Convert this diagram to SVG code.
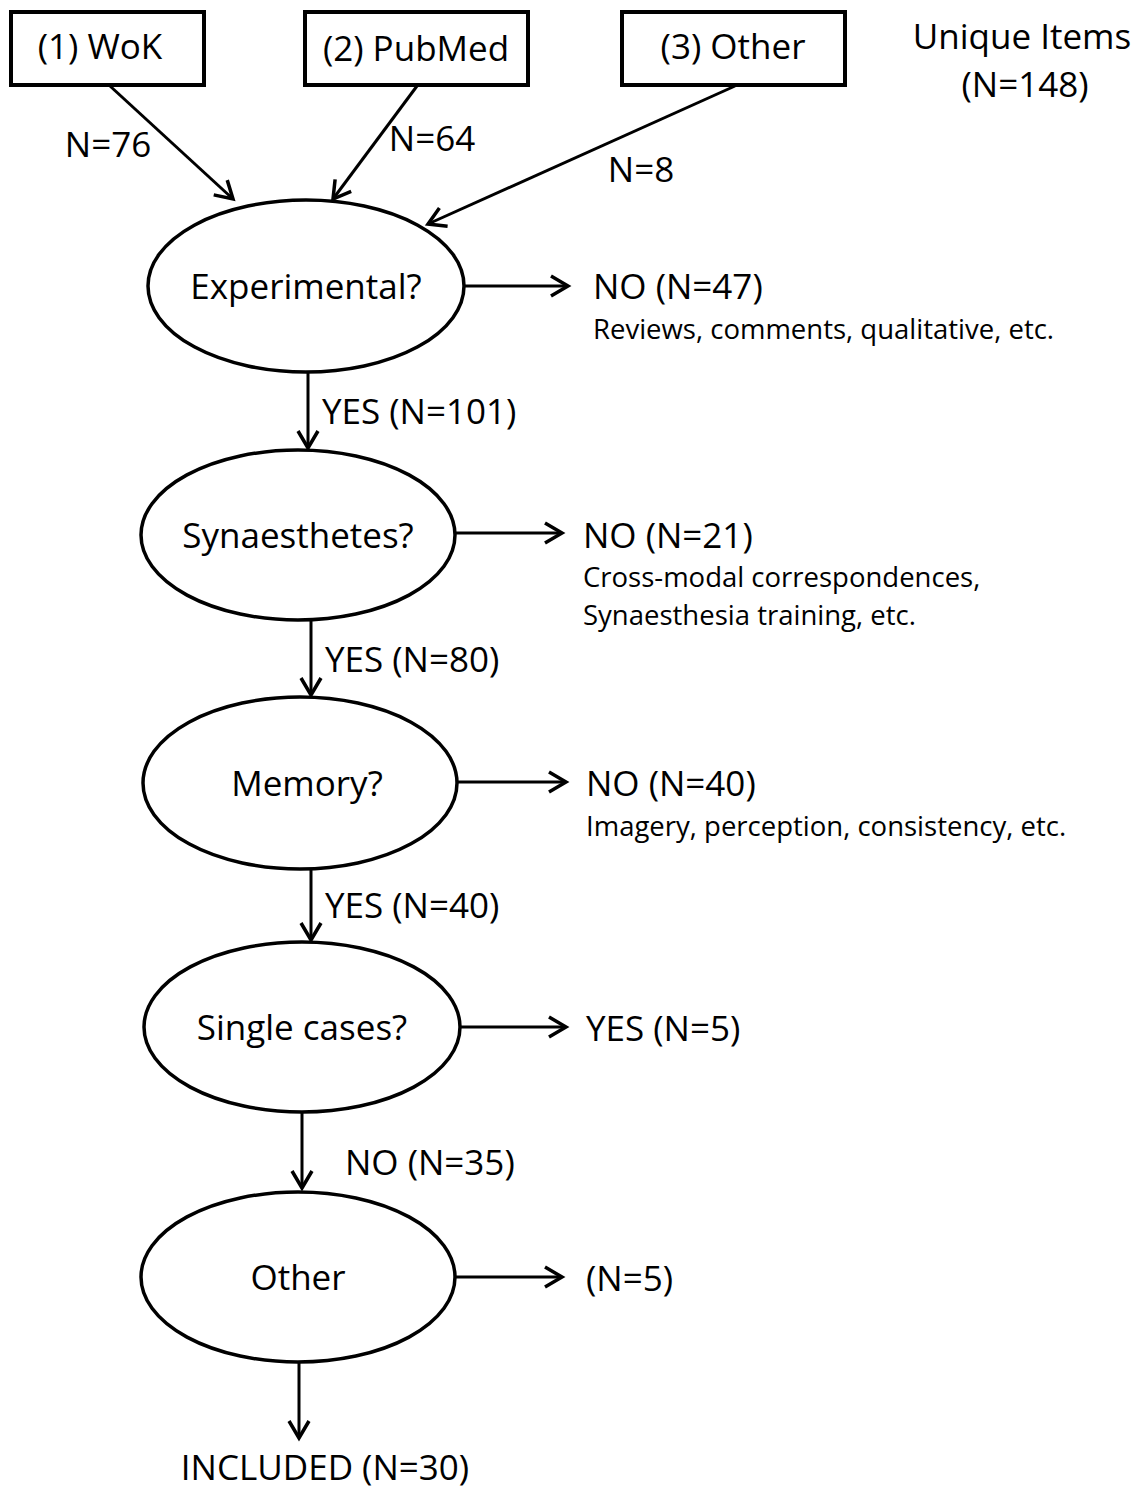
<svg xmlns="http://www.w3.org/2000/svg" width="1138" height="1493" viewBox="0 0 1138 1493">
<style>
text{font-family:"Open Sans","Noto Sans","Liberation Sans",sans-serif;fill:#000}
.big{font-size:35px}
.small{font-size:27.5px}
.box{fill:#fff;stroke:#000;stroke-width:4}
.ell{fill:#fff;stroke:#000;stroke-width:3.5}
.edge{stroke:#000;stroke-width:3;fill:none;marker-end:url(#arr)}
</style>
<defs>
<marker id="arr" markerUnits="userSpaceOnUse" markerWidth="30" markerHeight="30" viewBox="-20 -15 30 30" refX="0" refY="0" orient="auto">
<path d="M-17,-10 L0,0 L-17,10" fill="none" stroke="#000" stroke-width="3.5"/>
</marker>
</defs>
<rect width="1138" height="1493" fill="#fff"/>
<g id="connectors">
<line class="edge" x1="110" y1="86" x2="233" y2="199"/>
<line class="edge" x1="417" y1="86" x2="333" y2="199"/>
<line class="edge" x1="735" y1="86" x2="428" y2="224"/>
<line class="edge" x1="464" y1="286" x2="568" y2="286"/>
<line class="edge" x1="308" y1="372" x2="308" y2="448"/>
<line class="edge" x1="455" y1="533" x2="562" y2="533"/>
<line class="edge" x1="311" y1="620" x2="311" y2="695"/>
<line class="edge" x1="458" y1="782" x2="566" y2="782"/>
<line class="edge" x1="311" y1="868" x2="311" y2="940"/>
<line class="edge" x1="460" y1="1027" x2="566" y2="1027"/>
<line class="edge" x1="302" y1="1112" x2="302" y2="1188"/>
<line class="edge" x1="455" y1="1277" x2="562" y2="1277"/>
<line class="edge" x1="299" y1="1362" x2="299" y2="1438"/>
<text class="big" x="108" y="157" text-anchor="middle">N=76</text>
<text class="big" x="432" y="151" text-anchor="middle">N=64</text>
<text class="big" x="641" y="182" text-anchor="middle">N=8</text>
<text class="big" x="322" y="424">YES (N=101)</text>
<text class="big" x="325" y="672">YES (N=80)</text>
<text class="big" x="325" y="918">YES (N=40)</text>
<text class="big" x="345" y="1175">NO (N=35)</text>
</g>
<g id="n-wok"><rect class="box" x="11" y="12" width="193" height="73"/><text class="big" x="100" y="59" text-anchor="middle">(1) WoK</text></g>
<g id="n-pubmed"><rect class="box" x="305" y="12" width="223" height="73"/><text class="big" x="416" y="61" text-anchor="middle">(2) PubMed</text></g>
<g id="n-other-src"><rect class="box" x="622" y="12" width="223" height="73"/><text class="big" x="733" y="59" text-anchor="middle">(3) Other</text></g>
<g id="n-unique"><text class="big" x="1022" y="49" text-anchor="middle">Unique Items</text><text class="big" x="1025" y="97" text-anchor="middle">(N=148)</text></g>
<g id="n-experimental"><ellipse class="ell" cx="306" cy="286" rx="158" ry="86"/><text class="big" x="306" y="299" text-anchor="middle">Experimental?</text></g>
<g id="n-no47"><text class="big" x="593" y="299">NO (N=47)</text><text class="small" x="593" y="339">Reviews, comments, qualitative, etc.</text></g>
<g id="n-synaesthetes"><ellipse class="ell" cx="298" cy="535" rx="157" ry="85"/><text class="big" x="298" y="548" text-anchor="middle">Synaesthetes?</text></g>
<g id="n-no21"><text class="big" x="583" y="548">NO (N=21)</text><text class="small" x="583" y="587">Cross-modal correspondences,</text><text class="small" x="583" y="625">Synaesthesia training, etc.</text></g>
<g id="n-memory"><ellipse class="ell" cx="300" cy="783" rx="157" ry="86"/><text class="big" x="307" y="796" text-anchor="middle">Memory?</text></g>
<g id="n-no40"><text class="big" x="586" y="796">NO (N=40)</text><text class="small" x="586" y="836">Imagery, perception, consistency, etc.</text></g>
<g id="n-single"><ellipse class="ell" cx="302" cy="1027" rx="158" ry="85"/><text class="big" x="302" y="1040" text-anchor="middle">Single cases?</text></g>
<g id="n-yes5"><text class="big" x="586" y="1041">YES (N=5)</text></g>
<g id="n-other"><ellipse class="ell" cx="298" cy="1277" rx="157" ry="85"/><text class="big" x="298" y="1290" text-anchor="middle">Other</text></g>
<g id="n-n5"><text class="big" x="586" y="1291">(N=5)</text></g>
<g id="n-included"><text class="big" x="325" y="1480" text-anchor="middle">INCLUDED (N=30)</text></g>
</svg>
